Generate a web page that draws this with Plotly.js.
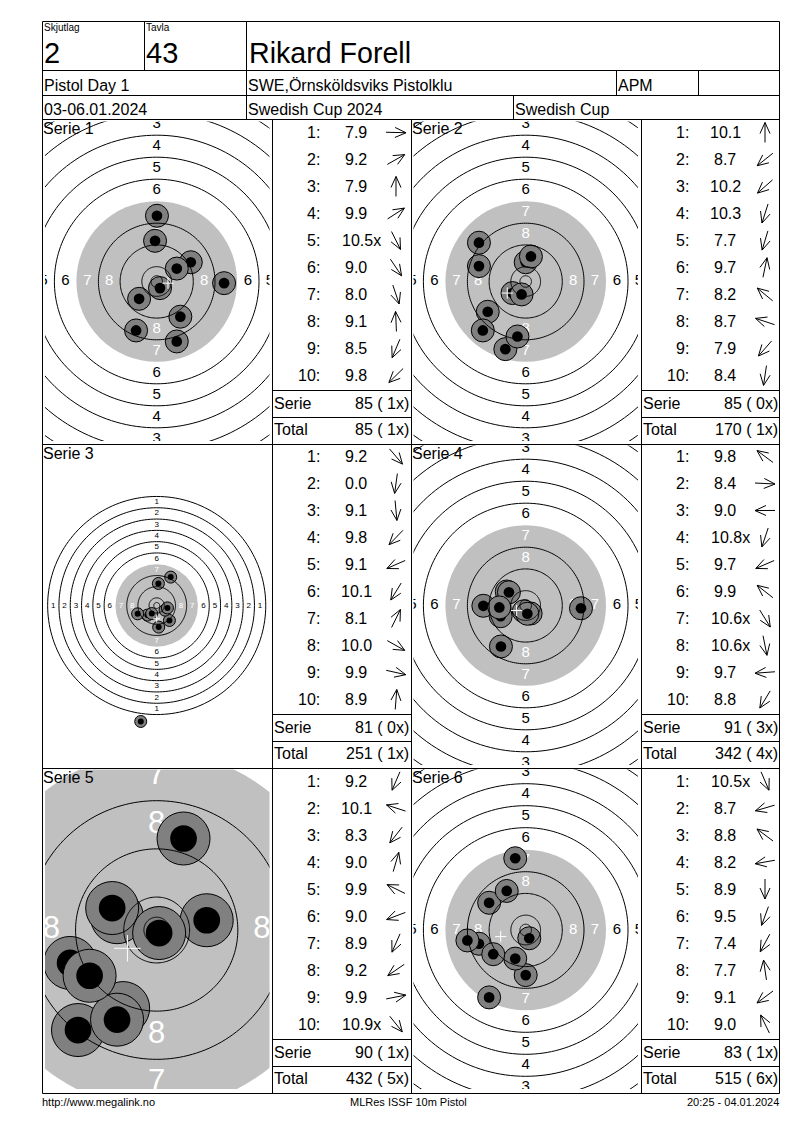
<!DOCTYPE html>
<html>
<head>
<meta charset="utf-8">
<script src="https://cdn.plot.ly/plotly-3.0.1.min.js"></script>
<style>html,body{margin:0;padding:0;background:#fff}#c{width:800px;height:1130px}</style>
</head>
<body>
<div id="c"></div>
<script>
// ---------- data (shot positions in mm from target centre) ----------
const shooterName = 'Rikard Forell';
const relay = '2', lane = '43';
const clubText = 'SWE,Örnsköldsviks Pistolklu';
const classText = 'APM';
const dayText = 'Pistol Day 1';
const datesText = '03-06.01.2024';
const cupYearText = 'Swedish Cup 2024';
const cupText = 'Swedish Cup';
const footerLeft = 'http://www.megalink.no';
const footerMid = 'MLRes ISSF 10m Pistol';
const footerRight = '20:25 - 04.01.2024';

const scores1 = ['7.9','9.2','7.9','9.9','10.5x','9.0','8.0','9.1','8.5','9.8'];
const scores2 = ['10.1','8.7','10.2','10.3','7.7','9.7','8.2','8.7','7.9','8.4'];
const scores3 = ['9.2','0.0','9.1','9.8','9.1','10.1','8.1','10.0','9.9','8.9'];
const scores4 = ['9.8','8.4','9.0','10.8x','9.7','9.9','10.6x','10.6x','9.7','8.8'];
const scores5 = ['9.2','10.1','8.3','9.0','9.9','9.0','8.9','9.2','9.9','10.9x'];
const scores6 = ['10.5x','8.7','8.8','8.2','8.9','9.5','7.4','7.7','9.1','9.0'];

const shotX1 = [24.5,12.4,0.1,7.3,1.2,8.6,7.3,-0.6,-7.5,-6.4];
const shotY1 = [-0.6,7.0,23.9,4.7,-2.4,-12.8,-21.8,14.8,-17.8,-6.3];
const shotX2 = [0,-13.8,-4.8,-1.5,-7.4,1.9,-17.0,-17.0,-15.6,-3.0];
const shotY2 = [7.0,-11.0,-4.2,-4.7,-24.6,9.1,14.1,5.6,-17.8,-20.0];
const shotX3 = [9.0,-11.3,1.4,-6.6,-13.5,-3.5,9.9,5.9,7.6,1.2];
const shotY3 = [-10.6,-82.1,-15.3,-6.8,-5.9,-5.7,20.1,-3.3,-1.7,15.6];
const shotX4 = [-6.9,20.1,-15.4,-0.7,-9.1,-6.1,1.8,0.6,-9.6,-9.0];
const shotY4 = [5.1,-1.0,-0.1,-2.1,-3.9,4.8,-2.9,-3.0,-0.7,-14.9];
const shotX5 = [-5.5,-6.5,-12.9,4.4,-7.3,-14.2,-6.5,-11.0,8.2,0.4];
const shotY5 = [-12.8,2.1,-16.4,15.0,3.6,-5.4,-14.7,-7.5,1.6,-0.5];
const shotX6 = [1.3,-17.0,-13.3,-21.2,0,-3.8,-13.3,-3.8,-11.8,-6.9];
const shotY6 = [-3.0,-5.0,9.9,-3.8,-16.4,-10.4,-24.5,26.1,-8.8,14.2];

const meanX = [4.1,-6.7,0,-3.3,-4.8,-9.1];
const meanY = [-0.6,-4.2,-9.4,-1.8,-3.0,-2.4];

const serieSums = ['85 ( 1x)','85 ( 0x)','81 ( 0x)','91 ( 3x)','90 ( 1x)','83 ( 1x)'];
const totalSums = ['85 ( 1x)','170 ( 1x)','251 ( 1x)','342 ( 4x)','432 ( 5x)','515 ( 6x)'];

// target geometry, mm radius per ring
const ringNumbers = [1,2,3,4,5,6,7,8,9,10];
const ringRadii = [77.2,69.2,61.2,53.2,45.2,37.2,29.2,21.2,13.3,5.4];
const innerTenRadius = 2.1;
const blackRadius = 29.2;
const labelNumbers = [1,2,3,4,5,6,7,8];
const unlinedRing = 7;   // the edge of the grey disc carries no line

// ---------- page layout (pixels) ----------
const W = 800, H = 1130;
const colOff = 369;
const rowTops = [121.5,445.5,769.5];
const rowCY = [281.5,605.5,930];
const panels = [
 {sx:shotX1,sy:shotY1,sc:scores1,col:0,row:0,s:2.75,hit:23,core:10.7,cross:8,font:15},
 {sx:shotX2,sy:shotY2,sc:scores2,col:1,row:0,s:2.75,hit:23,core:10.7,cross:8,font:15},
 {sx:shotX3,sy:shotY3,sc:scores3,col:0,row:1,s:1.4125,hit:12,core:6,cross:5,font:8},
 {sx:shotX4,sy:shotY4,sc:scores4,col:1,row:1,s:2.75,hit:23,core:10.7,cross:8,font:15},
 {sx:shotX5,sy:shotY5,sc:scores5,col:0,row:2,s:6.1,hit:53,core:26.7,cross:19,font:31},
 {sx:shotX6,sy:shotY6,sc:scores6,col:1,row:2,s:2.75,hit:23,core:10.7,cross:8,font:15}
];

const FONT = 'Liberation Sans';
const px = v => v / W, py = v => 1 - v / H;
const traces = [], shapes = [], annotations = [];
const layout = {
  width: W, height: H, margin: {l:0,r:0,t:0,b:0,pad:0},
  paper_bgcolor:'#fff', plot_bgcolor:'rgba(0,0,0,0)', showlegend:false, hovermode:false,
  font:{family:FONT,color:'#000'}
};

function txt(x,y,text,size,anchor){
  annotations.push({xref:'paper',yref:'paper',x:px(x),y:py(y),text:text,showarrow:false,
    xanchor:anchor||'left',yanchor:'middle',borderpad:0,borderwidth:0,
    font:{family:FONT,size:size,color:'#000'}});
}
function hline(y,x0,x1){shapes.push({type:'line',xref:'paper',yref:'paper',x0:px(x0),x1:px(x1),y0:py(y),y1:py(y),layer:'above',line:{color:'#000',width:1}});}
function vline(x,y0,y1){shapes.push({type:'line',xref:'paper',yref:'paper',x0:px(x),x1:px(x),y0:py(y0),y1:py(y1),layer:'above',line:{color:'#000',width:1}});}

// ---------- target panels ----------
panels.forEach((p,i)=>{
  const n = i+1, xa = n===1?'x':'x'+n, ya = n===1?'y':'y'+n;
  const L = 45+p.col*368.5, R = 269.5+p.col*368.5, T = rowTops[p.row], B = T+319.5;
  const cx = 156.7+p.col*369, cy = rowCY[p.row];
  layout['xaxis'+(n===1?'':n)] = {domain:[px(L),px(R)],range:[(L-cx)/p.s,(R-cx)/p.s],visible:false,fixedrange:true,anchor:ya};
  layout['yaxis'+(n===1?'':n)] = {domain:[py(B),py(T)],range:[(cy-B)/p.s,(cy-T)/p.s],visible:false,fixedrange:true,anchor:xa};

  // grey aiming disc
  shapes.push({type:'circle',xref:xa,yref:ya,x0:-blackRadius,x1:blackRadius,y0:-blackRadius,y1:blackRadius,
    layer:'below',fillcolor:'#c0c0c0',line:{width:0}});

  // ring numbers
  const lx=[],ly=[],lt=[],lc=[];
  labelNumbers.forEach(v=>{
    const k = ringNumbers.indexOf(v);
    const r = (ringRadii[k]+ringRadii[k+1])/2;
    [[r,0],[-r,0],[0,r],[0,-r]].forEach(d=>{lx.push(d[0]);ly.push(d[1]);lt.push(String(v));lc.push(v>=7?'#fff':'#000');});
  });
  traces.push({type:'scatter',mode:'text',xaxis:xa,yaxis:ya,x:lx,y:ly,text:lt,textposition:'middle center',
    textfont:{family:FONT,size:p.font,color:lc},cliponaxis:true,hoverinfo:'skip'});

  // shots: grey hole then black core, in firing order
  const hx=[],hy=[],hs=[],hc=[],hw=[];
  p.sx.forEach((x,k)=>{
    hx.push(x,x);hy.push(p.sy[k],p.sy[k]);hs.push(p.hit,p.core);hc.push('#808080','#000');hw.push(1,0);
  });
  traces.push({type:'scatter',mode:'markers',xaxis:xa,yaxis:ya,x:hx,y:hy,cliponaxis:true,hoverinfo:'skip',
    marker:{symbol:'circle',size:hs,color:hc,opacity:1,line:{color:'#000',width:hw}}});

  // rings on top of shots
  const rx=[],ry=[];
  ringRadii.filter((r,k)=>ringNumbers[k]!==unlinedRing).concat([innerTenRadius]).forEach(r=>{
    for(let a=0;a<=180;a++){const t=a*Math.PI/90;rx.push(r*Math.cos(t));ry.push(r*Math.sin(t));}
    rx.push(null);ry.push(null);
  });
  traces.push({type:'scatter',mode:'lines',xaxis:xa,yaxis:ya,x:rx,y:ry,cliponaxis:true,hoverinfo:'skip',connectgaps:false,
    line:{color:'#000',width:1,simplify:false}});

  // mean-point cross, over everything in the target
  traces.push({type:'scatter',mode:'markers',xaxis:xa,yaxis:ya,x:[meanX[i]],y:[meanY[i]],cliponaxis:true,hoverinfo:'skip',
    marker:{symbol:'cross-thin',size:p.cross,color:'#fff',line:{color:'#fff',width:1}}});

  // panel title
  txt(43+p.col*368.5,rowTops[p.row]+7.5,'Serie '+n,16);
});

// ---------- shot list ----------
const ax=[],ay=[];
panels.forEach((p,i)=>{
  const off = p.col*colOff, top = 132.5+[0,324,648.5][p.row];
  p.sc.forEach((v,k)=>{
    const y = top+27*k;
    txt(319.5+off,y,(k+1)+':',16,'right');
    txt(356+off+(v.endsWith('x')?5:0),y,v,16,'center');
    const d = Math.hypot(p.sx[k],p.sy[k])||1, ux=p.sx[k]/d, uy=-p.sy[k]/d;
    const c = [396+off,y];
    const tip=[c[0]+10*ux,c[1]+10*uy], tail=[c[0]-10*ux,c[1]-10*uy];
    const b=[tip[0]-11*ux,tip[1]-11*uy];
    ax.push(tail[0],tip[0],null,b[0]-5*uy,tip[0],b[0]+5*uy,null);
    ay.push(tail[1],tip[1],null,b[1]+5*ux,tip[1],b[1]-5*ux,null);
  });
  const base = [0,324,648.5][p.row];
  txt(274+off,403.5+base,'Serie',16);
  txt(409+off,403.5+base,serieSums[i].replace(/ /g,'\u00A0'),16,'right');
  txt(274+off,429.5+base,'Total',16);
  txt(409+off,429.5+base,totalSums[i].replace(/ /g,'\u00A0'),16,'right');
});
layout.xaxis7 = {domain:[0,1],range:[0,W],visible:false,fixedrange:true,anchor:'y7'};
layout.yaxis7 = {domain:[0,1],range:[H,0],visible:false,fixedrange:true,anchor:'x7'};
traces.push({type:'scatter',mode:'lines',xaxis:'x7',yaxis:'y7',x:ax,y:ay,hoverinfo:'skip',connectgaps:false,
  line:{color:'#000',width:1,simplify:false}});

// ---------- header ----------
txt(44,27.5,'Skjutlag',10);
txt(146,27.5,'Tavla',10);
txt(44,53,relay,29);
txt(146,53,lane,29);
txt(249,53,shooterName,28.6);
txt(44,85.7,dayText,16);
txt(248,85.7,clubText,16);
txt(618,85.7,classText,16);
txt(44,109.7,datesText,16);
txt(248,109.7,cupYearText,16);
txt(515,109.7,cupText,16);
txt(42,1102,footerLeft,11);
txt(408,1102,footerMid,11,'center');
txt(779,1102,footerRight,11,'right');

// ---------- table grid ----------
[21.5,70.5,95.5,119.5,444.5,768.5,1093.5].forEach(y=>hline(y,42.5,779.5));
[390.5,417.5,714.5,741.5,1039.5,1066.5].forEach(y=>{hline(y,272.5,411.5);hline(y,641.5,779.5);});
vline(42.5,21.5,1093.5);vline(779.5,21.5,1093.5);
vline(144.5,21.5,70.5);vline(246.5,21.5,119.5);
vline(616.5,70.5,95.5);vline(698.5,70.5,95.5);vline(513.5,95.5,119.5);
[272.5,411.5,641.5].forEach(x=>vline(x,119.5,1093.5));

layout.shapes = shapes;
layout.annotations = annotations;
Plotly.newPlot('c',traces,layout,{displayModeBar:false,staticPlot:true});
</script>
</body>
</html>
